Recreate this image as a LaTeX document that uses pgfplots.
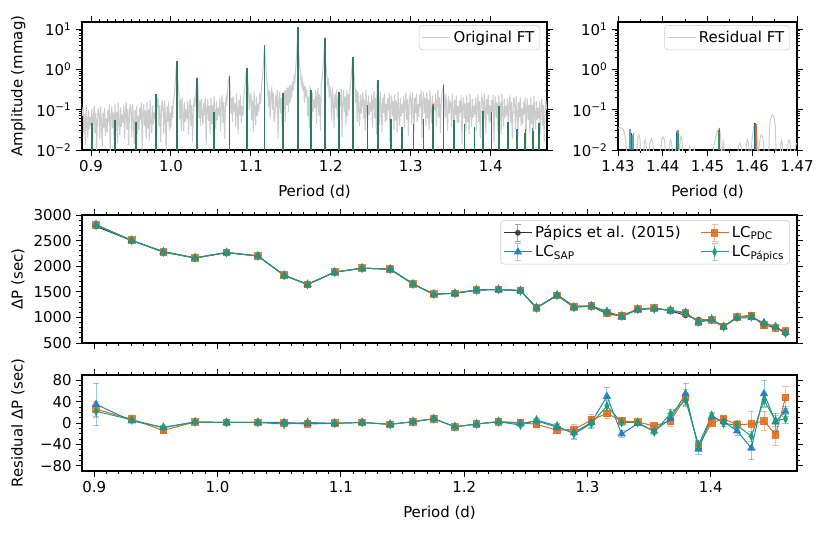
\documentclass[border=0pt]{standalone}
\usepackage{fontspec}
\setmainfont{DejaVu Sans}
\usepackage{pgfplots}
\usepackage{pgfplotstable}
\pgfplotsset{compat=1.18}
\definecolor{cB}{HTML}{1F7FC0}
\definecolor{cD}{HTML}{E0681A}
\definecolor{cG}{HTML}{1B9E77}
\definecolor{cGd}{HTML}{2F7D58}
\definecolor{cK}{HTML}{333333}
\definecolor{cgrey}{HTML}{CCCCCC}
\newcommand{\fs}{\fontsize{10.8}{13}\selectfont}

\pgfplotstableread{
P A
0.889 0.07
0.890 0.117
0.891 0.026
0.892 0.078
0.893 0.013
0.894 0.13
0.895 0.046
0.896 0.020
0.897 0.098
0.898 0.033
0.899 0.065
0.900 0.039
0.901 0.104
0.902 0.016
0.903 0.072
0.904 0.124
0.905 0.026
0.906 0.085
0.907 0.010
0.908 0.059
0.909 0.111
0.910 0.072
0.911 0.018
0.912 0.12
0.913 0.048
0.914 0.012
0.915 0.084
0.916 0.036
0.917 0.108
0.918 0.022
0.919 0.06
0.920 0.028
0.921 0.098
0.922 0.049
0.923 0.133
0.924 0.008
0.925 0.07
0.926 0.119
0.927 0.035
0.928 0.084
0.929 0.017
0.930 0.135
0.931 0.03
0.932 0.09
0.933 0.015
0.934 0.15
0.935 0.053
0.936 0.023
0.937 0.113
0.938 0.038
0.939 0.075
0.940 0.048
0.941 0.128
0.942 0.019
0.943 0.088
0.944 0.152
0.945 0.032
0.946 0.104
0.947 0.013
0.948 0.072
0.949 0.136
0.950 0.084
0.951 0.021
0.952 0.14
0.953 0.056
0.954 0.014
0.955 0.098
0.956 0.042
0.957 0.126
0.958 0.025
0.959 0.07
0.960 0.032
0.961 0.112
0.962 0.056
0.963 0.152
0.964 0.010
0.965 0.08
0.966 0.136
0.967 0.04
0.968 0.096
0.969 0.019
0.970 0.153
0.971 0.034
0.972 0.102
0.973 0.017
0.974 0.17
0.975 0.06
0.976 0.026
0.977 0.128
0.978 0.043
0.979 0.085
0.980 0.06
0.981 0.16
0.982 0.24
0.983 0.11
0.984 0.19
0.985 0.04
0.986 0.13
0.987 0.016
0.988 0.09
0.989 0.17
0.990 0.102
0.991 0.026
0.992 0.17
0.993 0.068
0.994 0.009
0.995 0.119
0.996 0.051
0.997 0.153
0.998 0.031
0.999 0.085
1.000 0.036
1.001 0.126
1.002 0.063
1.003 0.171
1.004 0.2
1.005 0.35
1.006 0.7
1.007 1.5
1.008 0.9
1.009 0.4
1.010 0.25
1.011 0.06
1.012 0.18
1.013 0.03
1.014 0.2
1.015 0.07
1.016 0.03
1.017 0.15
1.018 0.05
1.019 0.1
1.020 0.06
1.021 0.16
1.022 0.024
1.023 0.11
1.024 0.19
1.025 0.04
1.026 0.13
1.027 0.016
1.028 0.09
1.029 0.17
1.030 0.12
1.031 0.25
1.032 0.5
1.033 0.55
1.034 0.3
1.035 0.06
1.036 0.17
1.037 0.04
1.038 0.19
1.039 0.08
1.040 0.042
1.041 0.147
1.042 0.074
1.043 0.2
1.044 0.013
1.045 0.105
1.046 0.179
1.047 0.053
1.048 0.126
1.049 0.025
1.050 0.198
1.051 0.044
1.052 0.132
1.053 0.022
1.054 0.22
1.055 0.077
1.056 0.033
1.057 0.165
1.058 0.055
1.059 0.11
1.060 0.072
1.061 0.192
1.062 0.029
1.063 0.132
1.064 0.228
1.065 0.048
1.066 0.156
1.067 0.019
1.068 0.108
1.069 0.204
1.070 0.15
1.071 0.3
1.072 0.55
1.073 0.65
1.074 0.35
1.075 0.08
1.076 0.2
1.077 0.05
1.078 0.22
1.079 0.09
1.080 0.15
1.081 0.038
1.082 0.25
1.083 0.1
1.084 0.025
1.085 0.175
1.086 0.075
1.087 0.225
1.088 0.045
1.089 0.125
1.090 0.07
1.091 0.2
1.092 0.3
1.093 0.5
1.094 0.85
1.095 1.0
1.096 0.6
1.097 0.3
1.098 0.1
1.099 0.24
1.100 0.252
1.101 0.056
1.102 0.168
1.103 0.028
1.104 0.28
1.105 0.098
1.106 0.042
1.107 0.21
1.108 0.07
1.109 0.14
1.110 0.09
1.111 0.26
1.112 0.14
1.113 0.32
1.114 0.5
1.115 0.9
1.116 1.8
1.117 3.5
1.118 2.0
1.119 0.9
1.120 0.55
1.121 0.35
1.122 0.12
1.123 0.3
1.124 0.06
1.125 0.25
1.126 0.33
1.127 0.1
1.128 0.27
1.129 0.05
1.130 0.066
1.131 0.231
1.132 0.116
1.133 0.31
1.134 0.02
1.135 0.165
1.136 0.28
1.137 0.083
1.138 0.198
1.139 0.04
1.140 0.26
1.141 0.1
1.142 0.3
1.143 0.05
1.144 0.34
1.145 0.13
1.146 0.36
1.147 0.09
1.148 0.4
1.149 0.15
1.150 0.42
1.151 0.2
1.152 0.5
1.153 0.3
1.154 0.65
1.155 0.5
1.156 1.0
1.157 2.0
1.158 5.0
1.1586 11.0
1.159 5.0
1.160 2.2
1.161 1.2
1.162 0.8
1.163 0.45
1.164 0.6
1.165 0.3
1.166 0.45
1.167 0.15
1.168 0.38
1.169 0.2
1.170 0.315
1.171 0.07
1.172 0.21
1.173 0.035
1.174 0.35
1.175 0.3
1.176 0.05
1.177 0.26
1.178 0.09
1.179 0.18
1.180 0.11
1.181 0.3
1.182 0.045
1.183 0.2
1.184 0.35
1.185 0.07
1.186 0.24
1.187 0.03
1.188 0.4
1.189 0.6
1.190 0.9
1.191 1.8
1.192 4.0
1.193 3.0
1.194 1.2
1.195 0.7
1.196 0.45
1.197 0.6
1.198 0.2
1.199 0.38
1.200 0.22
1.201 0.054
1.202 0.36
1.203 0.14
1.204 0.036
1.205 0.25
1.206 0.11
1.207 0.32
1.208 0.065
1.209 0.18
1.210 0.27
1.211 0.245
1.212 0.12
1.213 0.33
1.214 0.021
1.215 0.175
1.216 0.3
1.217 0.09
1.218 0.21
1.219 0.042
1.220 0.3
1.221 0.07
1.222 0.25
1.223 0.1
1.224 0.35
1.225 0.5
1.226 0.9
1.227 1.7
1.228 1.6
1.229 0.7
1.230 0.4
1.231 0.15
1.232 0.32
1.233 0.05
1.234 0.28
1.235 0.1
1.236 0.04
1.237 0.24
1.238 0.08
1.239 0.17
1.240 0.27
1.241 0.06
1.242 0.18
1.243 0.03
1.244 0.3
1.245 0.105
1.246 0.045
1.247 0.225
1.248 0.075
1.249 0.15
1.250 0.09
1.251 0.24
1.252 0.036
1.253 0.165
1.254 0.285
1.255 0.06
1.256 0.195
1.257 0.024
1.258 0.5
1.259 0.3
1.260 0.168
1.261 0.042
1.262 0.28
1.263 0.112
1.264 0.028
1.265 0.196
1.266 0.084
1.267 0.252
1.268 0.05
1.269 0.14
1.270 0.054
1.271 0.19
1.272 0.095
1.273 0.257
1.274 0.016
1.275 0.135
1.276 0.23
1.277 0.068
1.278 0.162
1.279 0.032
1.280 0.243
1.281 0.054
1.282 0.162
1.283 0.027
1.284 0.27
1.285 0.095
1.286 0.04
1.287 0.2
1.288 0.068
1.289 0.135
1.290 0.084
1.291 0.224
1.292 0.034
1.293 0.154
1.294 0.266
1.295 0.056
1.296 0.182
1.297 0.022
1.298 0.126
1.299 0.238
1.300 0.168
1.301 0.042
1.302 0.28
1.303 0.112
1.304 0.028
1.305 0.196
1.306 0.084
1.307 0.252
1.308 0.05
1.309 0.14
1.310 0.066
1.311 0.231
1.312 0.116
1.313 0.314
1.314 0.02
1.315 0.165
1.316 0.28
1.317 0.083
1.318 0.198
1.319 0.04
1.320 0.27
1.321 0.06
1.322 0.18
1.323 0.03
1.324 0.3
1.325 0.105
1.326 0.045
1.327 0.225
1.328 0.075
1.329 0.15
1.330 0.096
1.331 0.256
1.332 0.038
1.333 0.176
1.334 0.304
1.335 0.064
1.336 0.208
1.337 0.026
1.338 0.144
1.339 0.272
1.340 0.3
1.341 0.38
1.342 0.2
1.343 0.06
1.344 0.25
1.345 0.1
1.346 0.03
1.347 0.22
1.348 0.08
1.349 0.16
1.350 0.15
1.351 0.038
1.352 0.25
1.353 0.1
1.354 0.025
1.355 0.175
1.356 0.075
1.357 0.225
1.358 0.045
1.359 0.125
1.360 0.048
1.361 0.168
1.362 0.084
1.363 0.228
1.364 0.014
1.365 0.12
1.366 0.204
1.367 0.06
1.368 0.144
1.369 0.029
1.370 0.225
1.371 0.05
1.372 0.15
1.373 0.025
1.374 0.25
1.375 0.088
1.376 0.038
1.377 0.188
1.378 0.063
1.379 0.125
1.380 0.075
1.381 0.2
1.382 0.03
1.383 0.138
1.384 0.238
1.385 0.05
1.386 0.163
1.387 0.02
1.388 0.113
1.389 0.213
1.390 0.156
1.391 0.039
1.392 0.26
1.393 0.104
1.394 0.026
1.395 0.182
1.396 0.078
1.397 0.234
1.398 0.047
1.399 0.13
1.400 0.05
1.401 0.175
1.402 0.088
1.403 0.238
1.404 0.015
1.405 0.125
1.406 0.213
1.407 0.063
1.408 0.15
1.409 0.03
1.410 0.225
1.411 0.05
1.412 0.15
1.413 0.025
1.414 0.25
1.415 0.088
1.416 0.038
1.417 0.188
1.418 0.063
1.419 0.125
1.420 0.072
1.421 0.192
1.422 0.029
1.423 0.132
1.424 0.228
1.425 0.048
1.426 0.156
1.427 0.019
1.428 0.108
1.429 0.204
1.430 0.132
1.431 0.033
1.432 0.22
1.433 0.088
1.434 0.022
1.435 0.154
1.436 0.066
1.437 0.198
1.438 0.04
1.439 0.11
1.440 0.044
1.441 0.154
1.442 0.077
1.443 0.209
1.444 0.013
1.445 0.11
1.446 0.187
1.447 0.055
1.448 0.132
1.449 0.026
1.450 0.198
1.451 0.044
1.452 0.132
1.453 0.022
1.454 0.22
1.455 0.077
1.456 0.033
1.457 0.165
1.458 0.055
1.459 0.11
1.460 0.06
1.461 0.16
1.462 0.024
1.463 0.11
1.464 0.19
1.465 0.04
1.466 0.13
1.467 0.016
1.468 0.09
1.469 0.17
1.470 0.1
}\ftorig

\pgfplotstableread{
P A
1.43000 0.035
1.43050 0.036
1.43100 0.034
1.43140 0.028
1.43170 0.018
1.43200 0.008
1.43220 0.003
1.43300 0.004
1.43380 0.003
1.43410 0.003
1.43427 0.012
1.43443 0.020
1.43465 0.024
1.43487 0.020
1.43503 0.012
1.43520 0.003
1.43560 0.003
1.43575 0.009
1.43589 0.015
1.43608 0.018
1.43627 0.015
1.43642 0.009
1.43657 0.003
1.43672 0.003
1.43694 0.0095
1.43717 0.016
1.43746 0.019
1.43775 0.016
1.43798 0.0095
1.43821 0.003
1.43933 0.003
1.43955 0.0105
1.43978 0.018
1.44008 0.021
1.44038 0.018
1.44060 0.0105
1.44082 0.003
1.44119 0.003
1.44136 0.009
1.44153 0.015
1.44175 0.018
1.44197 0.015
1.44214 0.009
1.44231 0.003
1.44270 0.003
1.44290 0.010
1.44310 0.020
1.44330 0.026
1.44350 0.018
1.44365 0.003
1.44379 0.011
1.44392 0.0187
1.44410 0.022
1.44428 0.0187
1.44441 0.011
1.44455 0.003
1.44567 0.003
1.44578 0.006
1.44589 0.010
1.44604 0.012
1.44619 0.010
1.44630 0.006
1.44641 0.003
1.44679 0.003
1.44692 0.009
1.44705 0.011
1.44718 0.009
1.44731 0.003
1.44800 0.002
1.44950 0.002
1.45089 0.003
1.45120 0.008
1.45150 0.014
1.45180 0.020
1.45210 0.027
1.45240 0.034
1.45260 0.035
1.45280 0.030
1.45300 0.015
1.45310 0.004
1.45330 0.011
1.45349 0.016
1.45368 0.011
1.45388 0.003
1.45649 0.003
1.45671 0.0073
1.45694 0.0125
1.45723 0.0147
1.45753 0.0125
1.45776 0.0073
1.45798 0.003
1.45835 0.003
1.45852 0.009
1.45869 0.015
1.45891 0.018
1.45913 0.015
1.45930 0.009
1.45947 0.003
1.45955 0.004
1.45980 0.012
1.46010 0.025
1.46040 0.040
1.46060 0.046
1.46080 0.043
1.46100 0.030
1.46120 0.012
1.46127 0.003
1.46134 0.003
1.46156 0.012
1.46179 0.0204
1.46208 0.024
1.46237 0.0204
1.46260 0.012
1.46283 0.003
1.46358 0.003
1.46386 0.0375
1.46414 0.064
1.46451 0.075
1.46488 0.064
1.46516 0.0375
1.46544 0.003
1.46619 0.003
1.46630 0.009
1.46641 0.015
1.46656 0.018
1.46671 0.015
1.46682 0.009
1.46693 0.003
1.46768 0.003
1.46785 0.009
1.46802 0.015
1.46824 0.018
1.46846 0.015
1.46863 0.009
1.46880 0.003
1.46920 0.003
1.46950 0.010
1.46980 0.014
1.47000 0.0147
}\ftres

\pgfplotstableread{
P AK AB AD AG
0.9010 0.048 0.048 0.048 0.048
0.9300 0.054 0.054 0.057 0.054
0.9560 0.050 0.050 0.050 0.050
0.9815 0.247 0.247 0.247 0.247
1.0073 1.60 1.60 1.60 1.60
1.0327 0.62 0.62 0.62 0.62
1.0540 0.090 0.090 0.090 0.090
1.0730 0.70 0.70 0.70 0.70
1.0950 1.09 1.09 1.09 1.09
1.1172 3.93 3.93 3.93 3.93
1.1400 0.267 0.267 0.267 0.267
1.1586 11.4 11.4 11.4 11.4
1.1754 0.31 0.31 0.31 0.31
1.1925 5.87 5.87 5.87 5.87
1.2100 0.28 0.28 0.28 0.28
1.2279 2.01 2.01 2.01 2.01
1.2457 0.134 0.134 0.134 0.134
1.2587 0.55 0.55 0.55 0.55
1.2754 0.058 0.058 0.058 0.058
1.2890 0.038 0.038 0.038 0.038
1.3032 0.044 0.044 0.044 0.044
1.3158 0.058 0.058 0.058 0.058
1.3278 0.125 0.125 0.135 0.125
1.3408 0.40 0.40 0.40 0.40
1.3542 0.054 0.054 0.056 0.054
1.3674 0.043 0.045 0.043 0.043
1.3796 0.038 0.038 0.038 0.038
1.3901 0.093 0.093 0.093 0.093
1.4008 0.087 0.087 0.087 0.087
1.4105 0.127 0.127 0.127 0.127
1.4214 0.048 0.050 0.048 0.048
1.4330 0.026 0.033 0.024 0.024
1.4432 0.028 0.033 0.027 0.027
1.4526 0.031 0.036 0.031 0.030
1.4607 0.046 0.046 0.045 0.046
}\modes

\pgfplotstableread{
PK AK PB AB PD AD PG AG
1.43300 0.026 1.43275 0.033 1.43345 0.026 1.43310 0.024
1.44322 0.027 1.44322 0.030 1.44340 0.032 1.44332 0.027
1.45255 0.031 1.45268 0.036 1.45245 0.031 1.45250 0.030
1.46055 0.046 1.46055 0.044 1.46090 0.044 1.46072 0.046
}\modesres

\pgfplotstableread{
P dK dB dD dG rB eB rD eD rG eG
0.9014 2778 2813 2804 2800 35 40 26 15 22 10
0.9303 2499 2503 2506 2505 4 3 7 3 6 3
0.9560 2287 2279 2273 2278 -8 3 -14 3 -9 3
0.9817 2160 2162 2162 2162 2 2 2 2 2 2
1.0073 2266 2267 2267 2267 1 2 1 2 1 2
1.0327 2199 2200 2200 2200 1 2 1 2 1 2
1.0540 1822 1823 1822 1820 1 2 0 2 -2 2
1.0730 1644 1643 1642 1645 -1 2 -2 2 1 2
1.0950 1884 1884 1884 1884 -0.5 2 -0.5 2 -0.5 2
1.1172 1961 1962 1962 1962 1 2 1 2 1 2
1.1400 1944 1942 1942 1942 -2.5 2 -2.5 2 -2.5 2
1.1586 1650 1652 1652 1652 2.5 2 2.5 2 2.5 2
1.1754 1448 1456 1456 1456 8 2 8 2 8 2
1.1925 1477 1470 1470 1470 -7 2 -7.5 2 -7 2
1.2100 1536 1534 1534 1534 -2 2 -2 2 -2 2
1.2279 1544 1547 1547 1547 2.5 2 2.5 2 2.5 2
1.2457 1524 1523 1525 1520 -1 3 1 3 -4 3
1.2587 1184 1188 1182 1190 4 3 -2.5 3 5.6 3
1.2754 1442 1434 1428 1436 -8 5 -13.6 5 -5.6 5
1.2890 1218 1200 1206 1198 -18 12 -12 10 -20.5 8
1.3032 1223 1224 1229 1222 1 12 5.6 10 -1 8
1.3158 1068 1118 1086 1100 50 17 18 10 32 10
1.3278 1029 1009 1033 1030 -20.5 6 3.7 5 1.2 5
1.3408 1157 1156 1159 1158 -1 3 2 3 1.2 3
1.3542 1187 1172 1181 1170 -15 5 -5.6 5 -16.7 5
1.3674 1128 1136 1132 1145 8 10 4.3 10 17.4 8
1.3796 1039 1094 1087 1082 55 20 48 15 43 12
1.3901 955 906 912 914 -49 10 -43 8 -41.5 8
1.4008 950 962 951 964 11.8 6 0.6 6 14.3 6
1.4105 817 820 824 816 2.5 5 7.4 5 -0.6 5
1.4214 1007 992 1004 1003 -15 8 -3 8 -4.3 6
1.4330 1040 993 1038 1015 -47 22 -2 24 -25 10
1.4432 843 898 847 886 55 25 4 18 43 12
1.4526 812 815 790 816 2.5 16 -22 20 4.3 10
1.4607 686 708 734 694 22 10 48 20 8 8
}\dptab

\pgfplotsset{
  mplbase/.style={
    scale only axis,
    tick align=outside,
    major tick length=4bp,
    minor tick length=2.3bp,
    every tick/.style={black, line width=0.7bp},
    axis line style={line width=0.9bp},
    tick label style={font=\fs},
    label style={font=\fs},
    legend style={font=\fs, draw=black!20, rounded corners=2.5bp, fill=white, fill opacity=0.8, text opacity=1, inner sep=2bp},
    legend cell align=left,
  },
  mygreyleg/.style={legend image code/.code={\draw[##1] (0bp,0bp) -- (20bp,0bp);}},
  myebar/.style={error bars/.cd, y dir=both, y explicit,
    error bar style={line width=0.6bp, opacity=0.45},
    error mark options={rotate=90, mark size=2.2bp, line width=0.6bp, opacity=0.45}},
  mysK/.style={cK, line width=0.7bp, mark=*, mark size=1.7bp},
  mysB/.style={cB, line width=0.7bp, mark=triangle*, mark size=2.8bp, mark options={opacity=0.9}},
  mysD/.style={cD, line width=0.7bp, mark=square*, mark size=2.4bp, mark options={opacity=0.85}},
  mysG/.style={cG, line width=0.7bp, mark=diamond*, mark size=2.9bp, mark options={xscale=0.62, opacity=0.95}},
}

\begin{document}
\begin{tikzpicture}
\path[use as bounding box] (0bp,0bp) rectangle (591.84bp,-394.56bp);

% ---------- top left: original FT
\begin{axis}[mplbase,
  ymode=log, ymin=0.01, ymax=15, log origin y=infty,
  ytick={0.01,0.1,1,10},
  yticklabels={10\textsuperscript{−2},10\textsuperscript{−1},10\textsuperscript{0},10\textsuperscript{1}},
  minor ytick={0.02,0.03,0.04,0.05,0.06,0.07,0.08,0.09,0.2,0.3,0.4,0.5,0.6,0.7,0.8,0.9,2,3,4,5,6,7,8,9},
  at={(59.04bp,-108bp)}, anchor=south west,
  width=334.8bp, height=92.16bp,
  xmin=0.8887, xmax=1.4704,
  xtick={0.9,1.0,1.1,1.2,1.3,1.4},
  xticklabels={0.9,1.0,1.1,1.2,1.3,1.4},
  minor x tick num=9,
  xlabel={Period (d)}, ylabel={Amplitude (mmag)},
  xlabel style={at={(axis description cs:0.5,-0.33)}, anchor=center},
  ylabel style={at={(axis description cs:-0.137,0.5)}, anchor=center},
  legend style={at={(axis description cs:1,1)}, anchor=north east, xshift=-5bp, yshift=-2.2bp},
  mygreyleg,
]
\addplot[cgrey, line width=0.75bp] table[x=P, y=A] {\ftorig};
\addlegendentry{Original FT}
\addplot[ycomb, cK, line width=1bp, forget plot] table[x=P, y=AK] {\modes};
\addplot[ycomb, cB, line width=1bp, forget plot] table[x=P, y=AB] {\modes};
\addplot[ycomb, cD, line width=1bp, forget plot] table[x=P, y=AD] {\modes};
\addplot[ycomb, cGd, line width=1.1bp, forget plot] table[x=P, y=AG] {\modes};
\end{axis}

% ---------- top right: residual FT
\begin{axis}[mplbase,
  ymode=log, ymin=0.01, ymax=15, log origin y=infty,
  ytick={0.01,0.1,1,10},
  yticklabels={10\textsuperscript{−2},10\textsuperscript{−1},10\textsuperscript{0},10\textsuperscript{1}},
  minor ytick={0.02,0.03,0.04,0.05,0.06,0.07,0.08,0.09,0.2,0.3,0.4,0.5,0.6,0.7,0.8,0.9,2,3,4,5,6,7,8,9},
  at={(444.96bp,-108bp)}, anchor=south west,
  width=128.88bp, height=92.16bp,
  xmin=1.43, xmax=1.47,
  xtick={1.43,1.44,1.45,1.46,1.47},
  xticklabels={1.43,1.44,1.45,1.46,1.47},
  minor x tick num=1,
  xlabel={Period (d)},
  xlabel style={at={(axis description cs:0.5,-0.33)}, anchor=center},
  legend style={at={(axis description cs:1,1)}, anchor=north east, xshift=-5bp, yshift=-2.2bp},
  mygreyleg,
]
\addplot[cgrey, line width=0.7bp] table[x=P, y=A] {\ftres};
\addlegendentry{Residual FT}
\addplot[ycomb, cK, line width=1.3bp, forget plot] table[x=PK, y=AK] {\modesres};
\addplot[ycomb, cB, line width=1.3bp, opacity=0.75, forget plot] table[x=PB, y=AB] {\modesres};
\addplot[ycomb, cD, line width=1.3bp, opacity=0.9, forget plot] table[x=PD, y=AD] {\modesres};
\addplot[ycomb, cG, line width=1.3bp, opacity=0.8, forget plot] table[x=PG, y=AG] {\modesres};
\end{axis}

% ---------- middle: period spacing
\begin{axis}[mplbase,
  at={(59.04bp,-246.96bp)}, anchor=south west,
  width=514.8bp, height=92.16bp,
  xmin=0.890, xmax=1.470, ymin=500, ymax=3000,
  xtick={0.9,1.0,1.1,1.2,1.3,1.4}, xticklabels={},
  minor x tick num=9,
  ytick={500,1000,1500,2000,2500,3000},
  yticklabels={500,1000,1500,2000,2500,3000},
  minor y tick num=4,
  ylabel={ΔP (sec)},
  ylabel style={at={(axis description cs:-0.0895,0.5)}, anchor=center},
  legend columns=2,
  legend style={at={(axis description cs:1,1)}, anchor=north east, xshift=-5bp, yshift=-3.6bp,
    /tikz/every even column/.append style={column sep=12bp}},
  legend image code/.code={
    \draw[#1, mark=none, opacity=0.45] (10bp,-6bp) -- (10bp,6bp) (7.8bp,-6bp) -- (12.2bp,-6bp) (7.8bp,6bp) -- (12.2bp,6bp);
    \draw[mark repeat=2, mark phase=2, #1] plot coordinates {(0bp,0bp) (10bp,0bp) (20bp,0bp)};
  },
]
\addplot[mysK, myebar] table[x=P, y=dK, y error=eG] {\dptab};
\addlegendentry{Pápics et al. (2015)}
\addplot[mysD, myebar] table[x=P, y=dD, y error=eD] {\dptab};
\addlegendentry{LC\textsubscript{PDC}}
\addplot[mysB, myebar] table[x=P, y=dB, y error=eB] {\dptab};
\addlegendentry{LC\textsubscript{SAP}}
\addplot[mysG, myebar] table[x=P, y=dG, y error=eG] {\dptab};
\addlegendentry{LC\textsubscript{Pápics}}
\end{axis}

% ---------- bottom: residuals
\begin{axis}[mplbase,
  at={(59.04bp,-339.12bp)}, anchor=south west,
  width=514.8bp, height=69.12bp,
  xmin=0.890, xmax=1.470, ymin=-90, ymax=90,
  xtick={0.9,1.0,1.1,1.2,1.3,1.4},
  xticklabels={0.9,1.0,1.1,1.2,1.3,1.4},
  minor x tick num=9,
  ytick={-80,-40,0,40,80},
  yticklabels={−80,−40,0,40,80},
  minor y tick num=3,
  xlabel={Period (d)}, ylabel={Residual ΔP (sec)},
  xlabel style={at={(axis description cs:0.5,-0.4375)}, anchor=center},
  ylabel style={at={(axis description cs:-0.0895,0.5)}, anchor=center},
]
\addplot[mysD, myebar] table[x=P, y=rD, y error=eD] {\dptab};
\addplot[mysB, myebar] table[x=P, y=rB, y error=eB] {\dptab};
\addplot[mysG, myebar] table[x=P, y=rG, y error=eG] {\dptab};
\end{axis}
\end{tikzpicture}
\end{document}
